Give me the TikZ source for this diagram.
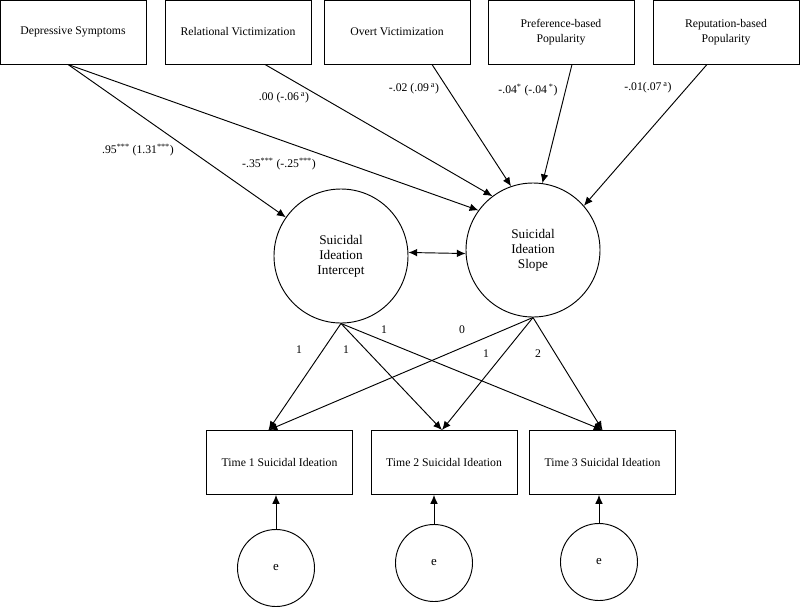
\documentclass[tikz,border=0pt]{standalone}
\usepackage{fontspec}
\setmainfont{Liberation Serif}
\usetikzlibrary{arrows.meta,positioning,calc}

\begin{document}
\begin{tikzpicture}
[x=0.03cm,y=-0.03cm,font=\fontsize{10}{12.8}\selectfont,
obs/.style={draw,line width=.8pt,minimum width=4.38cm,minimum height=1.92cm,align=center,inner sep=1pt},
latent/.style={shape=circle,draw=black,line width=.8pt,minimum size=4.02cm,align=center,inner sep=0pt,
  font=\fontsize{11.3}{12.8}\selectfont},
err/.style={shape=circle,draw=black,line width=.8pt,minimum size=2.31cm,inner sep=0pt,font=\fontsize{11}{12}\selectfont},
reg/.style={line width=.8pt,>={Latex[length=7.5pt,width=6.5pt]}},
lbl/.style={inner sep=1pt}]
\useasboundingbox (0,0) rectangle (800,606);

% predictors
\node[obs] (ds) at (73,32) {Depressive Symptoms};
\node[obs] (rv) at (238,32) {Relational Victimization};
\node[obs] (ov) at (397,32) {Overt Victimization};
\node[obs] (pb) at (561,32) {Preference-based\\Popularity};
\node[obs] (rb) at (726,32) {Reputation-based\\Popularity};

% growth factors
\node[latent] (int) at (341,256) {Suicidal\\Ideation\\Intercept};
\node[latent] (sl) at (533,250) {Suicidal\\Ideation\\Slope};
\draw[reg,<->] (int.3) -- (sl.183);

% predictor paths
\draw[reg,->] ($(ds.south)+(-5,0)$) -- (int);
\draw[reg,->] ($(ds.south)+(-5,0)$) -- (sl.144);
\draw[reg,->] ($(rv.south)+(27,0)$) -- (sl.127);
\draw[reg,->] ($(ov.south)+(35,0)$) -- (sl.109);
\draw[reg,->] ($(pb.south)+(11,0)$) -- (sl.82);
\draw[reg,->] ($(rb.south)+(-19,0)$) -- (sl.41);
\node[lbl] (c1) at (138,150) {.95\textsuperscript{***} (1.31\textsuperscript{***})};
\node[lbl] (c2) at (279,164) {-.35\textsuperscript{***} (-.25\textsuperscript{***})};
\node[lbl] (c3) at (284,98) {.00 (-.06\,\textsuperscript{a})};
\node[lbl] (c4) at (414,89) {-.02 (.09\,\textsuperscript{a})};
\node[lbl] (c5) at (528,90) {-.04\textsuperscript{*} (-.04\,\textsuperscript{*})};
\node[lbl] (c6) at (648,88) {-.01(.07\,\textsuperscript{a})};

% repeated measures
\node[obs] (t1) at (279.5,462.5) {Time 1 Suicidal Ideation};
\node[obs] (t2) at (444,462.5) {Time 2 Suicidal Ideation};
\node[obs] (t3) at (602.5,462.5) {Time 3 Suicidal Ideation};
\coordinate (in1) at ($(t1.north)+(-11,0)$);
\coordinate (in2) at ($(t2.north)+(-2,0)$);
\coordinate (in3) at (t3.north);
\foreach \t in {1,2,3} {
  \draw[reg,->] (int.south) -- (in\t);
  \draw[reg,->] (sl.south) -- (in\t);
}
% loadings
\node[lbl] (f1) at (299,350) {1};
\node[lbl] (f2) at (346,350) {1};
\node[lbl] (f3) at (384,330) {1};
\node[lbl] (f4) at (462,330) {0};
\node[lbl] (f5) at (486,354) {1};
\node[lbl] (f6) at (538,354) {2};

% residuals
\node[err] (e1) at (276,568) {e};
\node[err] (e2) at (434,563) {e};
\node[err] (e3) at (599,562) {e};
\draw[reg,->] (e1) -- (e1 |- t1.south);
\draw[reg,->] (e2) -- (e2 |- t2.south);
\draw[reg,->] (e3) -- (e3 |- t3.south);
\end{tikzpicture}
\end{document}
